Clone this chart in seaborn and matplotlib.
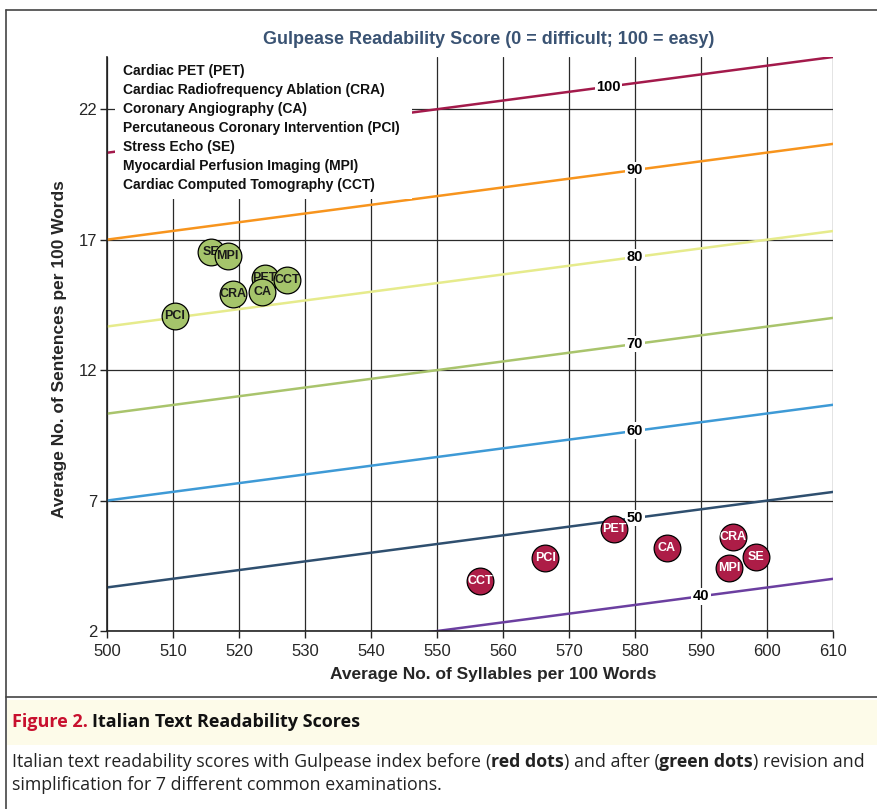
import matplotlib
matplotlib.use("Agg")
import matplotlib.pyplot as plt
import seaborn as sns
import pandas as pd
import numpy as np
from matplotlib.patches import Rectangle

# ---------------- data ----------------
exams = ["PET", "CRA", "CA", "PCI", "SE", "MPI", "CCT"]
exam_names = ["Cardiac PET (PET)", "Cardiac Radiofrequency Ablation (CRA)",
              "Coronary Angiography (CA)", "Percutaneous Coronary Intervention (PCI)",
              "Stress Echo (SE)", "Myocardial Perfusion Imaging (MPI)",
              "Cardiac Computed Tomography (CCT)"]
before_syll = [576.8, 594.9, 584.8, 566.4, 598.4, 594.3, 556.5]
before_sent = [5.90, 5.59, 5.19, 4.81, 4.82, 4.40, 3.93]
after_syll = [523.9, 519.1, 523.5, 510.3, 515.8, 518.3, 527.3]
after_sent = [15.52, 14.91, 14.99, 14.07, 16.52, 16.37, 15.45]

scores = [40, 50, 60, 70, 80, 90, 100]
iso_x = [500, 610]
iso_start = [0.33, 3.67, 7.00, 10.33, 13.67, 17.00, 20.33]   # sentences at 500 syllables
iso_end = [4.00, 7.33, 10.67, 14.00, 17.33, 20.67, 24.00]     # sentences at 610 syllables
label_x = [590, 580, 580, 580, 580, 580, 576]

xticks = list(range(500, 611, 10))
yticks = [2, 7, 12, 17, 22]

# ---------------- styling ----------------
sns.set_theme(style="white")
plt.rcParams["font.family"] = ["Liberation Sans", "DejaVu Sans"]

iso_colors = {40: "#6b3fa0", 50: "#2f4f6f", 60: "#3e9ad6", 70: "#a9c46c",
              80: "#e6eb8c", 90: "#f7941d", 100: "#a31a4b"}
red = "#ad1d47"
green = "#a5c46b"

fig = plt.figure(figsize=(8.77, 8.09), dpi=100)
ax = fig.add_axes([107/877, 178/809, 726/877, 574/809])

# iso-score lines
rows = []
for s, a, b in zip(scores, iso_start, iso_end):
    rows.append({"score": s, "syll": iso_x[0], "sent": a})
    rows.append({"score": s, "syll": iso_x[1], "sent": b})
iso_df = pd.DataFrame(rows)
sns.lineplot(data=iso_df, x="syll", y="sent", hue="score", palette=iso_colors,
             linewidth=1.8, legend=False, ax=ax, zorder=2)

for s, a, b, lx in zip(scores, iso_start, iso_end, label_x):
    ly = np.interp(lx, iso_x, [a, b])
    ax.text(lx, ly, str(s), ha="center", va="center", fontsize=10.5, fontweight="bold",
            color="black", zorder=3,
            bbox=dict(boxstyle="square,pad=0.1", fc="white", ec="none"))

# points (drawn one by one so later circles cover earlier labels, as in the original)
pts = pd.DataFrame({
    "exam": exams * 2,
    "syll": before_syll + after_syll,
    "sent": before_sent + after_sent,
    "phase": ["before"] * 7 + ["after"] * 7,
})
palette = {"before": red, "after": green}
for i in range(len(pts)):
    r = pts.iloc[i]
    sns.scatterplot(data=pts.iloc[[i]], x="syll", y="sent", hue="phase",
                    palette=palette, s=370, edgecolor="black", linewidth=0.9,
                    legend=False, ax=ax, zorder=10 + 2 * i)
    ax.text(r["syll"], r["sent"], r["exam"], ha="center", va="center",
            fontsize=9, fontweight="bold",
            color="white" if r["phase"] == "before" else "#1a1a1a", zorder=11 + 2 * i)

# axes
ax.set_xlim(500, 610)
ax.set_ylim(2, 24)
ax.set_xticks(xticks)
ax.set_yticks(yticks)
ax.tick_params(axis="both", labelsize=12, length=5, width=1, color="#222222",
               direction="out", left=True, bottom=True)
ax.tick_params(axis="x", pad=4)
ax.tick_params(axis="y", pad=2)
ax.grid(True, color="#2a2a2a", linewidth=0.9)
ax.set_axisbelow(True)
for side in ["top", "right"]:
    ax.spines[side].set_visible(False)
for side in ["left", "bottom"]:
    ax.spines[side].set_color("#222222")
    ax.spines[side].set_linewidth(1.2)
ax.set_xlabel("Average No. of Syllables per 100 Words", fontsize=12.5,
              fontweight="bold")
ax.xaxis.set_label_coords((493 - 107)/726, -0.062)
ax.set_ylabel("Average No. of Sentences per 100 Words", fontsize=12.5,
              fontweight="bold")
ax.yaxis.set_label_coords(-(107 - 67)/726, (631 - 349)/574)

# legend box (plain text list)
ax.add_patch(Rectangle((0.011, 0.753), 0.409, 0.247, transform=ax.transAxes,
                       fc="white", ec="none", zorder=4))
for i, name in enumerate(exam_names):
    ax.text(123/877, (809 - 71 - 19 * i)/809, name, transform=fig.transFigure,
            fontsize=10, fontweight="bold", color="#111111", va="center", ha="left",
            zorder=7)

# title
fig.text(489/877, 1 - 39/809, "Gulpease Readability Score (0 = difficult; 100 = easy)",
         ha="center", va="center", fontsize=13, fontweight="bold", color="#3a5373")

# frame and caption
fig.add_artist(plt.Line2D([6/877, 1], [1 - 10/809, 1 - 10/809], color="#444444", lw=1.2,
                          transform=fig.transFigure))
fig.add_artist(plt.Line2D([6/877, 6/877], [0, 1 - 10/809], color="#444444", lw=1.2,
                          transform=fig.transFigure))
fig.add_artist(plt.Line2D([6/877, 1], [1 - 697/809, 1 - 697/809], color="#444444", lw=1.2,
                          transform=fig.transFigure))
fig.add_artist(Rectangle((7/877, 1 - 745/809), 1, 45/809, transform=fig.transFigure,
                         fc="#fdfbe9", ec="none"))
cap_font = ["Open Sans", "DejaVu Sans"]
fig.canvas.draw()
renderer = fig.canvas.get_renderer()

def run_text(parts, x0, ypix, size):
    xcur = x0
    for txt, w, col in parts:
        tt = fig.text(xcur/877, 1 - ypix/809, txt, fontsize=size, fontweight=w,
                      color=col, va="center", ha="left", family=cap_font)
        xcur = tt.get_window_extent(renderer=renderer).x1
    return xcur

run_text([("Figure 2. ", "bold", "#c8102e"),
          ("Italian Text Readability Scores", "bold", "#111111")], 12, 722, 13)
run_text([("Italian text readability scores with Gulpease index before ", "normal", "#222222"),
          ("(", "normal", "#222222"), ("red dots", "bold", "#222222"),
          (") and after (", "normal", "#222222"), ("green dots", "bold", "#222222"),
          (") revision and", "normal", "#222222")], 12, 762, 12.75)
run_text([("simplification for 7 different common examinations.", "normal", "#222222")],
         12, 785, 12.75)

fig.savefig("out.png", dpi=100)
